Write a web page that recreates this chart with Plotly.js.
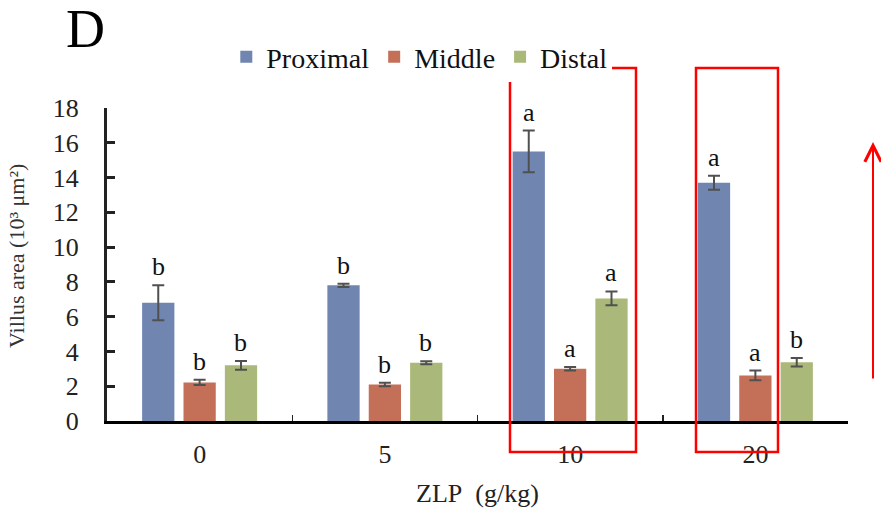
<!DOCTYPE html>
<html>
<head>
<meta charset="utf-8">
<script src="https://cdn.plot.ly/plotly-3.0.1.min.js"></script>
<style>html,body{margin:0;padding:0;background:#fff;}#chart{width:881px;height:514px;}</style>
</head>
<body>
<div id="chart"></div>
<script>
const categories = ['0', '5', '10', '20'];
const seriesNames = ['Proximal', 'Middle', 'Distal'];
const proximal = [6.8, 7.8, 15.5, 13.7];
const middle = [2.22, 2.1, 3.0, 2.62];
const distal = [3.2, 3.35, 7.05, 3.38];
const proximalErr = [1.0, 0.1, 1.2, 0.4];
const middleErr = [0.15, 0.1, 0.1, 0.28];
const distalErr = [0.25, 0.08, 0.4, 0.25];
const proximalLetters = ['b', 'b', 'a', 'a'];
const middleLetters = ['b', 'b', 'a', 'a'];
const distalLetters = ['b', 'b', 'a', 'b'];
const colors = ['#7085B0', '#C47058', '#AAB97A'];

const FONT = 'Liberation Serif, Times New Roman, serif';
const values = [proximal, middle, distal];
const errs = [proximalErr, middleErr, distalErr];
const letters = [proximalLetters, middleLetters, distalLetters];
const shifts = [-41, 0, 41];

const traces = seriesNames.map((name, i) => ({
  type: 'bar',
  name: name,
  x: categories,
  y: values[i],
  marker: {color: colors[i], line: {width: 0}},
  error_y: {type: 'data', array: errs[i], visible: true, color: '#505050', thickness: 2, width: 6}
}));

const annotations = [];
seriesNames.forEach((name, i) => {
  categories.forEach((c, j) => {
    annotations.push({
      x: j, y: values[i][j] + errs[i][j], xref: 'x', yref: 'y',
      text: letters[i][j], showarrow: false, xshift: shifts[i], yshift: 2,
      xanchor: 'center', yanchor: 'bottom', font: {family: FONT, size: 26, color: '#111'}
    });
  });
});
annotations.push({
  xref: 'paper', yref: 'paper', x: (85 - 107) / 741, y: (421 - 29) / 313, text: 'D', showarrow: false,
  xanchor: 'center', yanchor: 'middle',
  font: {family: FONT, size: 54, color: '#000'}
});
annotations.push({
  xref: 'paper', yref: 'paper', x: (16 - 107) / 741, y: (421 - 256) / 313, text: 'Villus area (10\u00b3 \u03bcm\u00b2)',
  xanchor: 'center', yanchor: 'middle',
  textangle: -90, showarrow: false, font: {family: FONT, size: 22, color: '#333'}
});
annotations.push({
  xref: 'paper', yref: 'paper', x: (873 - 107) / 741, y: (421 - 142) / 313,
  ax: 0, ay: 238, text: '', showarrow: true, arrowhead: 5, arrowsize: 1.6, arrowwidth: 2, arrowcolor: '#FF0000'
});

const layout = {
  width: 881, height: 514,
  margin: {l: 107, r: 33, t: 108, b: 93},
  paper_bgcolor: '#fff', plot_bgcolor: '#fff',
  barmode: 'group', bargap: 0.33, bargroupgap: 0.22,
  font: {family: FONT, color: '#111'},
  showlegend: true,
  legend: {
    orientation: 'h', x: 0.161, y: 1.163, xanchor: 'left', yanchor: 'middle',
    font: {family: FONT, size: 28, color: '#111'}, itemwidth: 30, tracegroupgap: 0
  },
  xaxis: {
    type: 'category', range: [-0.5, 3.5], autorange: false, showline: true, linecolor: '#000', linewidth: 3,
    ticks: 'inside', tickson: 'boundaries', ticklen: 6, tickwidth: 1.5, tickcolor: '#222',
    tickfont: {family: FONT, size: 26, color: '#222'}, ticklabelstandoff: 8, tickangle: 0,
    showgrid: false, zeroline: false,
    title: {text: 'ZLP\u00a0\u00a0(g/kg)', font: {family: FONT, size: 26, color: '#222'}, standoff: 16}
  },
  yaxis: {
    range: [0, 18], autorange: false, dtick: 2, showline: true, linecolor: '#222', linewidth: 3,
    ticks: 'inside', ticklen: 8, tickwidth: 3, tickcolor: '#222',
    tickfont: {family: FONT, size: 26, color: '#222'}, ticklabelstandoff: 20,
    showgrid: false, zeroline: false
  },
  shapes: [
    {type: 'rect', xref: 'paper', yref: 'paper', x0: (510 - 107) / 741, x1: (636 - 107) / 741,
     y0: (421 - 452) / 313, y1: (421 - 68) / 313, line: {color: '#FF0000', width: 2.5}},
    {type: 'rect', xref: 'paper', yref: 'paper', x0: (696 - 107) / 741, x1: (778 - 107) / 741,
     y0: (421 - 452) / 313, y1: (421 - 68) / 313, line: {color: '#FF0000', width: 2.5}}
  ],
  annotations: annotations
};

Plotly.newPlot('chart', traces, layout, {displayModeBar: false, staticPlot: true});
</script>
</body>
</html>
